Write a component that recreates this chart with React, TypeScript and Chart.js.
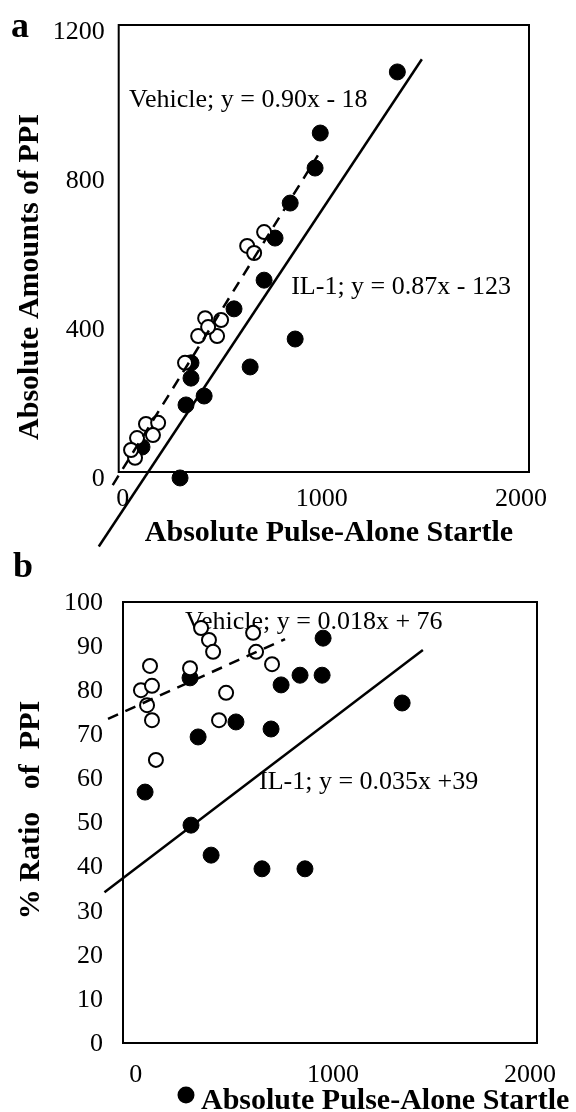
import React, { useEffect, useRef } from "react";
import { Chart, registerables } from "chart.js";
Chart.register(...registerables);

// ---------- Panel a : absolute amounts of PPI vs absolute pulse-alone startle ----------
const aVehicleX = [710, 625, 660, 414, 494, 379, 474, 429, 313, 117, 178, 72, 152, 62, 42];
const aVehicleY = [644, 607, 588, 413, 408, 365, 365, 389, 293, 129, 132, 91, 99, 38, 59];
const aIL1X = [1379, 992, 966, 841, 765, 710, 559, 866, 343, 343, 640, 409, 318, 97, 288];
const aIL1Y = [1074, 910, 816, 722, 628, 515, 438, 357, 293, 252, 282, 204, 180, 67, -16];
const aVehicleLineX = [-50, 980];
const aVehicleLineY = [-35, 850];
const aIL1LineX = [-120, 1502];
const aIL1LineY = [-200, 1108];
const aXTicks = [0, 1000, 2000];
const aYTicks = [0, 400, 800, 1200];

// ---------- Panel b : % ratio of PPI vs absolute pulse-alone startle ----------
const bVehicleX = [331, 371, 392, 595, 610, 691, 72, 275, 26, 82, 57, 82, 458, 422, 102];
const bVehicleY = [94.1, 91.4, 88.7, 93.0, 88.7, 85.9, 85.5, 85.0, 80.0, 81.0, 76.6, 73.2, 79.4, 73.2, 64.2];
const bIL1X = [950, 833, 945, 737, 1351, 275, 508, 686, 316, 47, 280, 382, 640, 858];
const bIL1Y = [91.8, 83.4, 83.4, 81.2, 77.1, 82.8, 72.8, 71.2, 69.4, 56.9, 49.4, 42.6, 39.5, 39.5];
const bVehicleLineX = [-141, 757];
const bVehicleLineY = [73.5, 91.6];
const bIL1LineX = [-159, 1456];
const bIL1LineY = [34.2, 89.1];
const bXTicks = [0, 1000, 2000];
const bYTicks = [0, 10, 20, 30, 40, 50, 60, 70, 80, 90, 100];

const SERIF = "'Liberation Serif', 'Times New Roman', serif";

const pts = (xs: number[], ys: number[]) => xs.map((x, i) => ({ x, y: ys[i] }));

type Txt = {
  text: string;
  x: number;
  y: number;
  font: string;
  align?: CanvasTextAlign;
  baseline?: CanvasTextBaseline;
  rotate?: number;
  data?: boolean;
};

function makePlugins(texts: Txt[], dot?: { x: number; y: number; r: number }) {
  return [
    {
      id: "frameAndText",
      beforeDatasetsDraw(chart: any) {
        const { ctx, chartArea } = chart;
        ctx.save();
        ctx.strokeStyle = "#000";
        ctx.lineWidth = 2;
        ctx.strokeRect(chartArea.left, chartArea.top, chartArea.right - chartArea.left, chartArea.bottom - chartArea.top);
        for (const t of texts) {
          let x = t.x;
          let y = t.y;
          if (t.data) {
            x = chart.scales.x.getPixelForValue(t.x);
            y = chart.scales.y.getPixelForValue(t.y);
          }
          ctx.save();
          ctx.translate(x, y);
          if (t.rotate) ctx.rotate(t.rotate);
          ctx.font = t.font;
          ctx.fillStyle = "#000";
          ctx.textAlign = t.align || "left";
          ctx.textBaseline = t.baseline || "alphabetic";
          ctx.fillText(t.text, 0, 0);
          ctx.restore();
        }
        if (dot) {
          ctx.beginPath();
          ctx.arc(dot.x, dot.y, dot.r, 0, Math.PI * 2);
          ctx.fillStyle = "#000";
          ctx.fill();
        }
        ctx.restore();
      },
    },
  ];
}

function buildConfig(opts: {
  vehX: number[]; vehY: number[]; ilX: number[]; ilY: number[];
  vehLX: number[]; vehLY: number[]; ilLX: number[]; ilLY: number[];
  xMin: number; xMax: number; xTicks: number[];
  yMin: number; yMax: number; yTicks: number[];
  yWidth: number; xHeight: number; padTop: number; padRight: number;
  yPad: number; yLabelOffset: number; xPad: number;
  texts: Txt[]; dot?: { x: number; y: number; r: number };
}) {
  const tickFont = { family: SERIF, size: 26, weight: "normal" as const };
  const plain = (v: any) => String(v);
  return {
    type: "scatter" as const,
    data: {
      datasets: [
        {
          label: "Vehicle fit",
          data: pts(opts.vehLX, opts.vehLY),
          showLine: true,
          borderColor: "#000",
          borderWidth: 2.5,
          borderDash: [11, 8],
          pointRadius: 0,
          clip: false,
          order: 0,
        },
        {
          label: "IL-1 fit",
          data: pts(opts.ilLX, opts.ilLY),
          showLine: true,
          borderColor: "#000",
          borderWidth: 2.5,
          pointRadius: 0,
          clip: false,
          order: 0,
        },
        {
          label: "Vehicle",
          data: pts(opts.vehX, opts.vehY),
          pointRadius: 7,
          pointBorderWidth: 2,
          pointBackgroundColor: "#fff",
          pointBorderColor: "#000",
          clip: false,
          order: 1,
        },
        {
          label: "IL-1",
          data: pts(opts.ilX, opts.ilY),
          pointRadius: 8,
          pointBorderWidth: 1,
          pointBackgroundColor: "#000",
          pointBorderColor: "#000",
          clip: false,
          order: 2,
        },
      ],
    },
    options: {
      animation: false as const,
      responsive: false,
      devicePixelRatio: 1,
      layout: { padding: { top: opts.padTop, right: opts.padRight, left: 0, bottom: 0 } },
      plugins: { legend: { display: false }, tooltip: { enabled: false } },
      scales: {
        x: {
          type: "linear" as const,
          min: opts.xMin,
          max: opts.xMax,
          grid: { display: false },
          border: { display: false },
          ticks: { font: tickFont, color: "#000", padding: opts.xPad, maxRotation: 0, autoSkip: false, callback: plain },
          afterBuildTicks: (axis: any) => {
            axis.ticks = opts.xTicks.map((v) => ({ value: v }));
          },
          afterFit: (scale: any) => {
            scale.height = opts.xHeight;
          },
        },
        y: {
          type: "linear" as const,
          min: opts.yMin,
          max: opts.yMax,
          grid: { display: false },
          border: { display: false },
          ticks: { font: tickFont, color: "#000", padding: opts.yPad, labelOffset: opts.yLabelOffset, autoSkip: false, callback: plain },
          afterBuildTicks: (axis: any) => {
            axis.ticks = opts.yTicks.map((v) => ({ value: v }));
          },
          afterFit: (scale: any) => {
            scale.width = opts.yWidth;
          },
        },
      },
    },
    plugins: makePlugins(opts.texts, opts.dot),
  };
}

export default function App() {
  const refA = useRef<HTMLCanvasElement | null>(null);
  const refB = useRef<HTMLCanvasElement | null>(null);

  useEffect(() => {
    const titleFont = `bold 30px ${SERIF}`;
    const eqFont = `26px ${SERIF}`;
    const letterFont = `bold 36px ${SERIF}`;

    const cfgA = buildConfig({
      vehX: aVehicleX, vehY: aVehicleY, ilX: aIL1X, ilY: aIL1Y,
      vehLX: aVehicleLineX, vehLY: aVehicleLineY, ilLX: aIL1LineX, ilLY: aIL1LineY,
      xMin: -20, xMax: 2040, xTicks: aXTicks,
      yMin: 0, yMax: 1200, yTicks: aYTicks,
      yWidth: 118.7, xHeight: 84, padTop: 25, padRight: 47,
      yPad: 6, yLabelOffset: 7, xPad: 4,
      texts: [
        { text: "a", x: 11, y: 37, font: letterFont },
        { text: "Absolute Amounts of PPI", x: 30, y: 277, font: titleFont, align: "center", baseline: "middle", rotate: -Math.PI / 2 },
        { text: "Absolute Pulse-Alone Startle", x: 329, y: 541, font: titleFont, align: "center" },
        { text: "Vehicle; y = 0.90x - 18", x: 32, y: 999, font: eqFont, baseline: "middle", data: true },
        { text: "IL-1; y = 0.87x - 123", x: 846, y: 497, font: eqFont, baseline: "middle", data: true },
      ],
    });

    const cfgB = buildConfig({
      vehX: bVehicleX, vehY: bVehicleY, ilX: bIL1X, ilY: bIL1Y,
      vehLX: bVehicleLineX, vehLY: bVehicleLineY, ilLX: bIL1LineX, ilLY: bIL1LineY,
      xMin: -65, xMax: 2035, xTicks: bXTicks,
      yMin: 0, yMax: 100, yTicks: bYTicks,
      yWidth: 123, xHeight: 69, padTop: 62, padRight: 39,
      yPad: 12, yLabelOffset: 1, xPad: 9,
      texts: [
        { text: "b", x: 13, y: 37, font: letterFont },
        { text: "% Ratio   of  PPI", x: 31, y: 270, font: titleFont, align: "center", baseline: "middle", rotate: -Math.PI / 2 },
        { text: "Absolute Pulse-Alone Startle", x: 201, y: 569, font: titleFont, align: "left" },
        { text: "Vehicle; y = 0.018x + 76", x: 250, y: 95.5, font: eqFont, baseline: "middle", data: true },
        { text: "IL-1; y = 0.035x +39", x: 625, y: 59.2, font: eqFont, baseline: "middle", data: true },
      ],
      dot: { x: 186, y: 555, r: 8.5 },
    });

    const chartA = new Chart(refA.current as HTMLCanvasElement, cfgA as any);
    const chartB = new Chart(refB.current as HTMLCanvasElement, cfgB as any);
    return () => {
      chartA.destroy();
      chartB.destroy();
    };
  }, []);

  return (
    <div style={{ position: "absolute", left: 0, top: 0, width: 576, height: 1112, background: "#fff", overflow: "hidden" }}>
      <canvas ref={refA} width={576} height={556} style={{ position: "absolute", left: 0, top: 0, width: 576, height: 556 }} />
      <canvas ref={refB} width={576} height={572} style={{ position: "absolute", left: 0, top: 540, width: 576, height: 572 }} />
    </div>
  );
}
